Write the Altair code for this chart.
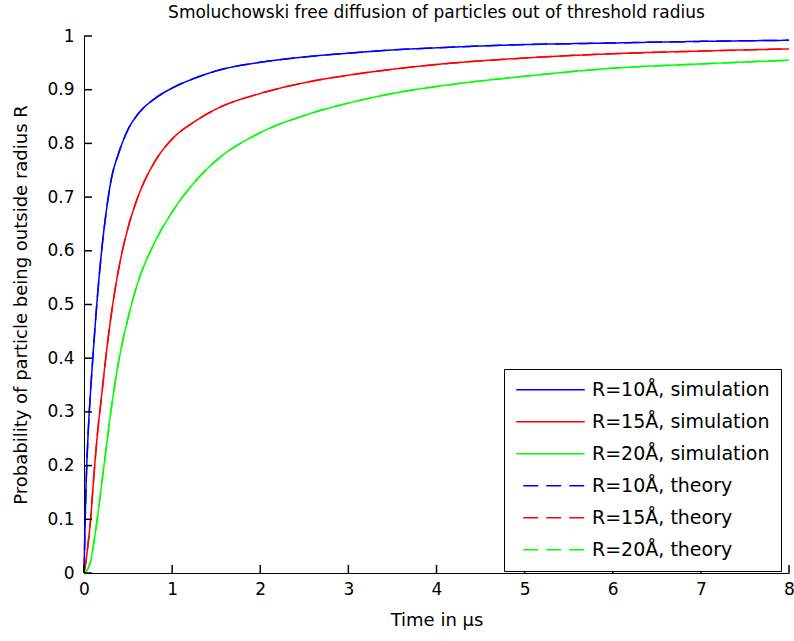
import altair as alt
import pandas as pd

# ---- data ----
times = [0, 0.025, 0.05, 0.075, 0.1, 0.15, 0.2, 0.25, 0.3, 0.4, 0.5, 0.6,
         0.8, 1.0, 1.25, 1.5, 2.0, 2.5, 3.0, 3.5, 4.0, 5.0, 6.0, 7.0, 8.0]
p_r10 = [0, 0.17, 0.27, 0.34, 0.40, 0.51, 0.60, 0.67, 0.725, 0.785, 0.826, 0.852,
         0.883, 0.903, 0.921, 0.935, 0.951, 0.961, 0.968, 0.974, 0.978, 0.984, 0.987, 0.99, 0.992]
p_r15 = [0, 0.025, 0.06, 0.10, 0.155, 0.255, 0.33, 0.405, 0.47, 0.572, 0.643, 0.695,
         0.765, 0.808, 0.84, 0.864, 0.893, 0.913, 0.927, 0.938, 0.947, 0.959, 0.967, 0.972, 0.976]
p_r20 = [0, 0.003, 0.01, 0.022, 0.045, 0.10, 0.165, 0.23, 0.295, 0.40, 0.475, 0.535,
         0.615, 0.672, 0.727, 0.768, 0.82, 0.852, 0.875, 0.893, 0.906, 0.925, 0.94, 0.948, 0.955]
radius_labels = ["R=10Å", "R=15Å", "R=20Å"]
colors = ["#0000ff", "#ff0000", "#00ff00"]
x_ticks = [0, 1, 2, 3, 4, 5, 6, 7, 8]
y_ticks = [0, 0.1, 0.2, 0.3, 0.4, 0.5, 0.6, 0.7, 0.8, 0.9, 1.0]

FONT = "DejaVu Sans"

series_values = [p_r10, p_r15, p_r20]
sim_names = [f"{r}, simulation" for r in radius_labels]
theo_names = [f"{r}, theory" for r in radius_labels]

rows_sim, rows_theo = [], []
for name_s, name_t, vals in zip(sim_names, theo_names, series_values):
    for t, p in zip(times, vals):
        rows_sim.append({"t": t, "P": p, "series": name_s})
        rows_theo.append({"t": t, "P": p, "series": name_t})
df_sim = pd.DataFrame(rows_sim)
df_theo = pd.DataFrame(rows_theo)
# inward tick marks: from the axis (0) a short way into the plot, in data units
df_xt = pd.DataFrame({"v": x_ticks, "base": [0.0] * len(x_ticks), "tip": [0.015] * len(x_ticks)})
df_yt = pd.DataFrame({"v": y_ticks, "base": [0.0] * len(y_ticks), "tip": [0.09] * len(y_ticks)})

domain = sim_names + theo_names
color_scale = alt.Scale(domain=domain, range=colors + colors)
dash_scale = alt.Scale(domain=domain, range=[[1, 0]] * 3 + [[15, 8]] * 3)

x_enc = alt.X("t:Q", scale=alt.Scale(domain=[0, 8], nice=False),
              axis=alt.Axis(values=x_ticks, title="Time in µs", format="~g", labelFlush=False,
                            labelPadding=8, titleBaseline="alphabetic", titleY=52))
y_enc = alt.Y("P:Q", scale=alt.Scale(domain=[0, 1], nice=False),
              axis=alt.Axis(values=y_ticks, title="Probability of particle being outside radius R",
                            format="~g", labelFlush=False, labelPadding=10,
                            titleBaseline="alphabetic", titleX=-58))

legend = alt.Legend(title=None, orient="none", legendX=420, legendY=333,
                    strokeColor="black", fillColor="white", padding=11,
                    labelFont=FONT, labelFontSize=19, labelColor="black",
                    symbolType="stroke", symbolSize=4700, symbolStrokeWidth=1.5,
                    symbolDashOffset=16, labelOffset=6, rowPadding=12, clipHeight=19.4,
                    labelLimit=400)

sim = alt.Chart(df_sim).mark_line(strokeWidth=1.5, interpolate="monotone").encode(
    x=x_enc, y=y_enc,
    color=alt.Color("series:N", scale=color_scale, legend=legend),
    strokeDash=alt.StrokeDash("series:N", scale=dash_scale, legend=legend),
)
theo = alt.Chart(df_theo).mark_line(strokeWidth=1.5, interpolate="monotone").encode(
    x=alt.X("t:Q"), y=alt.Y("P:Q"),
    color=alt.Color("series:N", scale=color_scale, legend=legend),
    strokeDash=alt.StrokeDash("series:N", scale=dash_scale, legend=legend),
)

xticks_layer = alt.Chart(df_xt).mark_rule(stroke="#000000", strokeWidth=1.5, opacity=1).encode(
    x=alt.X("v:Q"), y=alt.Y("base:Q"), y2=alt.Y2("tip:Q"))
yticks_layer = alt.Chart(df_yt).mark_rule(stroke="#000000", strokeWidth=1.5, opacity=1).encode(
    y=alt.Y("v:Q"), x=alt.X("base:Q"), x2=alt.X2("tip:Q"))

chart = alt.layer(sim, theo, xticks_layer, yticks_layer).properties(
    width=705, height=537,
    autosize=alt.AutoSizeParams(type="none"),
    padding={"left": 84, "top": 36, "right": 5, "bottom": 68},
    title=alt.TitleParams("Smoluchowski free diffusion of particles out of threshold radius",
                          font=FONT, fontSize=17, fontWeight="normal", color="black",
                          anchor="middle", frame="group", offset=5),
    background="white",
).configure_view(stroke=None).configure_axis(
    grid=False, ticks=False, domainColor="black", domainWidth=1,
    labelFont=FONT, labelFontSize=17, labelColor="black",
    titleFont=FONT, titleFontSize=18, titleFontWeight="normal", titleColor="black",
)

chart.save("out.html", embed_options={"renderer": "svg", "actions": False})
